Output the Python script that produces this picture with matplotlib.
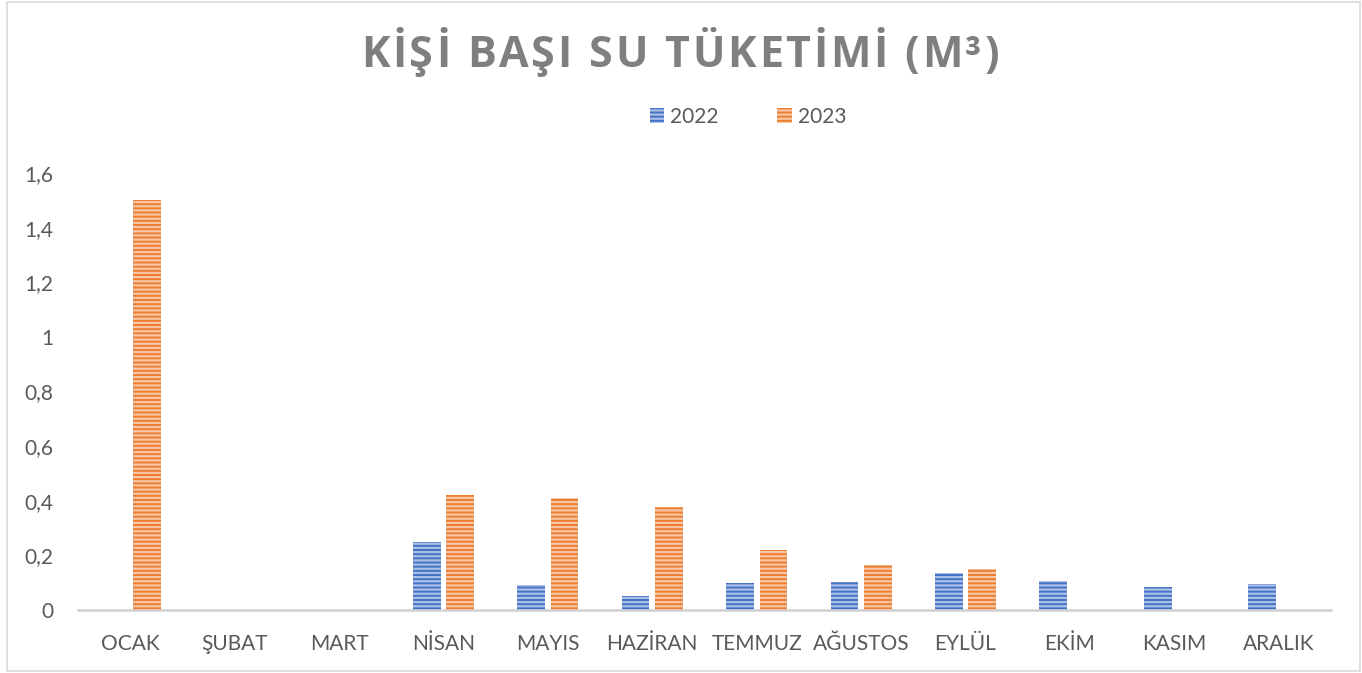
import numpy as np
import matplotlib
matplotlib.use('Agg')
import matplotlib.pyplot as plt
from matplotlib.patches import Rectangle, Patch
from matplotlib.ticker import FuncFormatter

# Aylık kişi başı su tüketimi (m³)
months = ['OCAK', 'ŞUBAT', 'MART', 'NİSAN', 'MAYIS', 'HAZİRAN',
          'TEMMUZ', 'AĞUSTOS', 'EYLÜL', 'EKİM', 'KASIM', 'ARALIK']
y2022 = [0, 0, 0, 0.25, 0.09, 0.05, 0.10, 0.104, 0.134, 0.107, 0.084, 0.096]
y2023 = [1.5, 0, 0, 0.42, 0.41, 0.376, 0.22, 0.165, 0.15, 0, 0, 0]
series_names = ['2022', '2023']

blue, blue_stripe = '#4472C4', '#a9bfe6'
orange, orange_stripe = '#ED7D31', '#f8c6a4'
text_col = '#595959'

plt.rcParams['font.family'] = ['Lato', 'DejaVu Sans']
plt.rcParams['hatch.linewidth'] = 1.6

fig = plt.figure(figsize=(13.62, 6.73), dpi=100)
ax = fig.add_axes([78 / 1362, 1 - 610 / 673, (1331 - 78) / 1362, (610 - 173) / 673])

x = np.arange(len(months))
w = 0.265
ax.bar(x - 0.16, y2022, w, color=blue, edgecolor=blue_stripe, linewidth=0, hatch='----')
ax.bar(x + 0.16, y2023, w, color=orange, edgecolor=orange_stripe, linewidth=0, hatch='----')

ax.set_xlim(-0.5, len(months) - 0.5)
ax.set_ylim(0, 1.6)
ax.set_yticks(np.arange(0, 1.61, 0.2))
ax.yaxis.set_major_formatter(FuncFormatter(lambda v, p: f'{round(v, 1):g}'.replace('.', ',')))
ax.set_xticks(x)
ax.set_xticklabels(months)
ax.tick_params(axis='both', length=0, labelsize=15, labelcolor=text_col)
ax.tick_params(axis='y', pad=18)
ax.tick_params(axis='x', pad=17)
for s in ['left', 'right', 'top']:
    ax.spines[s].set_visible(False)
ax.spines['bottom'].set_color('#d0d0d0')
ax.spines['bottom'].set_linewidth(1.8)

# legend
handles = [Patch(facecolor=blue, edgecolor=blue_stripe, linewidth=0, hatch='----'),
           Patch(facecolor=orange, edgecolor=orange_stripe, linewidth=0, hatch='----')]
fig.legend(handles, series_names, loc='center', bbox_to_anchor=(748 / 1362, 1 - 117 / 673),
           ncol=2, frameon=False, fontsize=15, labelcolor=text_col,
           handlelength=0.7, handleheight=0.7, handletextpad=0.3, columnspacing=2.8)

# title with letter spacing
title = 'KİŞİ BAŞI SU TÜKETİMİ (M³)'
tprops = dict(fontsize=31, fontweight='bold', family=['Open Sans', 'DejaVu Sans'], color='#7f7f7f')
fig.canvas.draw()
r = fig.canvas.get_renderer()


def wpx(s):
    t = fig.text(0, 0, s, **tprops)
    wd = t.get_window_extent(r).width
    t.remove()
    return wd


base = wpx('II')
adv = [wpx('I' + c + 'I') - base for c in title]
left, right = 361, 999
sp = ((right - left) - sum(adv)) / (len(title) - 1)
xp = left
for c, a in zip(title, adv):
    if c != ' ':
        fig.text((xp + a / 2) / 1362, 1 - 67 / 673, c, ha='center', va='baseline', **tprops)
    xp += a + sp

fig.add_artist(Rectangle((6.5 / 1362, 1 - 671 / 673), (1360 - 6.5) / 1362, (671 - 2) / 673,
                         transform=fig.transFigure, fill=False, edgecolor='#d9d9d9', linewidth=1.2))

fig.savefig('out.png', dpi=100)
